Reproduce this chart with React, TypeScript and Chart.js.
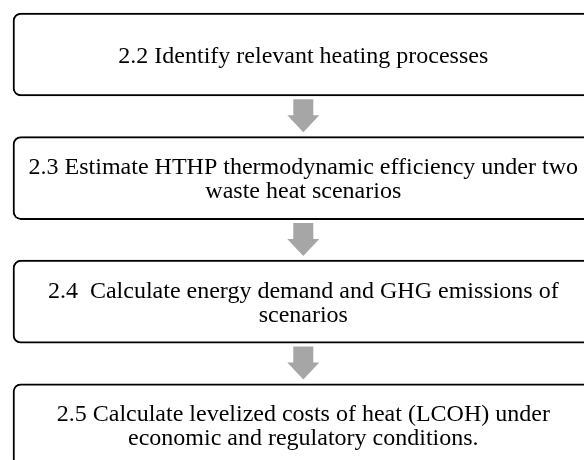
import React, { useEffect, useRef } from "react";
import { Chart, registerables } from "chart.js";

Chart.register(...registerables);

// Flowchart steps (category index = position in the flow)
const stepIds = ["2.2", "2.3", "2.4", "2.5"];
const stepLines: string[][] = [
  ["2.2 Identify relevant heating processes"],
  ["2.3 Estimate HTHP thermodynamic efficiency under two", "waste heat scenarios"],
  ["2.4  Calculate energy demand and GHG emissions of", "scenarios"],
  ["2.5 Calculate levelized costs of heat (LCOH) under", "economic and regulatory conditions."],
];
const stepIndex = [0, 1, 2, 3];

// layout (canvas is 584 x 460; x scale in pixel-like units)
const W = 584;
const H = 460;
const BOX_LEFT = 13;
const BOX_RIGHT = 594;
const FIRST_CENTER = 54.5;
const STEP = 123.6;
const BOX_H = 83;
const LINE_H = 24;
const FONT = "24px 'Liberation Serif', 'Times New Roman', serif";
const ARROW = "#a6a6a6";

const flowPlugin = {
  id: "flowDecor",
  afterDatasetsDraw(chart: any) {
    const ctx = chart.ctx as CanvasRenderingContext2D;
    const xs = chart.scales.x;
    const ys = chart.scales.y;
    const cx = xs.getPixelForValue((BOX_LEFT + BOX_RIGHT) / 2) - 0.2;
    ctx.save();
    // arrows between consecutive boxes
    for (let i = 0; i < stepIndex.length - 1; i++) {
      const g = ys.getPixelForValue(stepIndex[i] + 0.5);
      const top = g - 17;
      const headBase = g - 1;
      const tip = g + 16;
      ctx.fillStyle = ARROW;
      ctx.beginPath();
      ctx.moveTo(cx - 10, top);
      ctx.lineTo(cx + 10, top);
      ctx.lineTo(cx + 10, headBase);
      ctx.lineTo(cx + 16, headBase);
      ctx.lineTo(cx, tip);
      ctx.lineTo(cx - 16, headBase);
      ctx.lineTo(cx - 10, headBase);
      ctx.closePath();
      ctx.fill();
    }
    // text
    ctx.fillStyle = "#000";
    ctx.font = FONT;
    ctx.textAlign = "center";
    ctx.textBaseline = "alphabetic";
    stepLines.forEach((lines, i) => {
      const c = ys.getPixelForValue(stepIndex[i]);
      const n = lines.length;
      lines.forEach((t, k) => {
        const y = c + 8 + (k - (n - 1) / 2) * LINE_H;
        ctx.fillText(t, cx, y);
      });
    });
    ctx.restore();
  },
};

export default function App() {
  const ref = useRef<HTMLCanvasElement | null>(null);
  useEffect(() => {
    if (!ref.current) return;
    const yMin = -FIRST_CENTER / STEP;
    const yMax = (H - FIRST_CENTER) / STEP;
    const chart = new Chart(ref.current, {
      type: "bar",
      data: {
        labels: stepIds,
        datasets: [
          {
            label: "steps",
            data: stepIndex.map((i) => ({ x: [BOX_LEFT, BOX_RIGHT], y: i })) as any,
            backgroundColor: "#ffffff",
            borderColor: "#000000",
            borderWidth: 2,
            borderRadius: 8,
            borderSkipped: false,
            barThickness: BOX_H,
          },
        ],
      },
      options: {
        indexAxis: "y",
        responsive: false,
        maintainAspectRatio: false,
        animation: false,
        layout: { padding: 0 },
        plugins: { legend: { display: false }, tooltip: { enabled: false } },
        scales: {
          x: { type: "linear", min: 0, max: W, display: false, offset: false },
          y: { type: "linear", min: yMin, max: yMax, reverse: true, display: false, offset: false },
        },
      },
      plugins: [flowPlugin],
    });
    return () => chart.destroy();
  }, []);
  return (
    <div style={{ position: "absolute", left: 0, top: 0, width: W, height: H, background: "#fff" }}>
      <canvas ref={ref} width={W} height={H} style={{ width: W, height: H, display: "block" }} />
    </div>
  );
}
